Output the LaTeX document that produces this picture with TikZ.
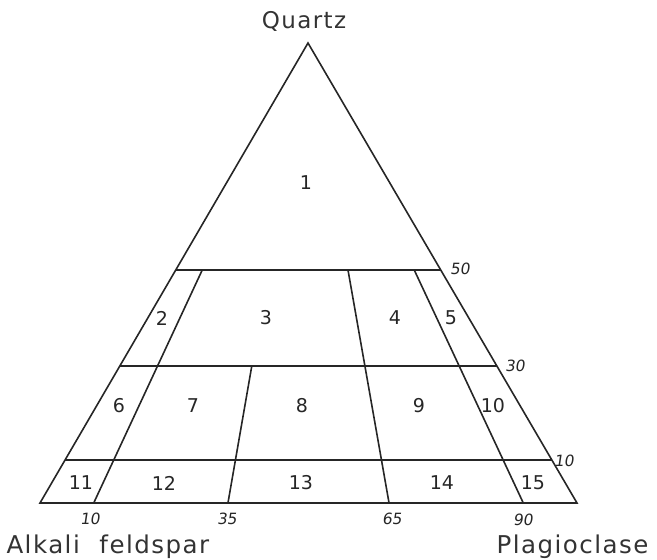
\documentclass[tikz,border=0pt]{standalone}
\usepackage{fontspec}
\setmainfont{DejaVu Sans}
\newfontfamily\widefont[LetterSpace=6]{DejaVu Sans}
\usetikzlibrary{calc}
\begin{document}
\begin{tikzpicture}[x=1pt,y=-1pt,
  edge/.style={line width=1.6pt,line join=miter,draw=black!85},
  field/.style={font=\fontsize{19}{19}\selectfont,text=black!85},
  tick/.style={font=\fontsize{15.5}{15.5}\selectfont\addfontfeature{FakeSlant=0.15},text=black!85},
  corner/.style={font=\widefont\fontsize{23}{23}\selectfont,text=black!80},
  cornerb/.style={font=\widefont\fontsize{24.5}{24.5}\selectfont,text=black!80}]
\useasboundingbox (0,0) rectangle (657,560);
\coordinate (Q) at (308,43);
\coordinate (A) at (40,503);
\coordinate (P) at (577,503);
% horizontal levels
\coordinate (L50) at ($(A)!0.506!(Q)$);
\coordinate (R50) at ($(P)!0.506!(Q)$);
\coordinate (L30) at ($(A)!0.298!(Q)$);
\coordinate (R30) at ($(P)!0.298!(Q)$);
\coordinate (L10) at ($(A)!0.093!(Q)$);
\coordinate (R10) at ($(P)!0.093!(Q)$);
% base points
\coordinate (B10) at ($(A)!0.10!(P)$);
\coordinate (B35) at ($(A)!0.35!(P)$);
\coordinate (B65) at ($(A)!0.65!(P)$);
\coordinate (B90) at ($(A)!0.90!(P)$);
\coordinate (T10) at ($(B10)!0.506!(Q)$);
\coordinate (T35) at ($(B35)!0.298!(Q)$);
\coordinate (T65) at ($(B65)!0.506!(Q)$);
\coordinate (T90) at ($(B90)!0.506!(Q)$);
\draw[edge] (A) -- (Q) -- (P) -- cycle;
\draw[edge] (L50) -- (R50);
\draw[edge] (L30) -- (R30);
\draw[edge] (L10) -- (R10);
\draw[edge] (B10) -- (T10);
\draw[edge] (B35) -- (T35);
\draw[edge] (B65) -- (T65);
\draw[edge] (B90) -- (T90);
% field numbers
\node[field] (f1) at (306,183) {1};
\node[field] (f2) at (162,318) {2};
\node[field] (f3) at (266,318) {3};
\node[field] (f4) at (395,318) {4};
\node[field] (f5) at (451,318) {5};
\node[field] (f6) at (119,406) {6};
\node[field] (f7) at (193,406) {7};
\node[field] (f8) at (302,406) {8};
\node[field] (f9) at (419,406) {9};
\node[field] (f10) at (493,406) {10};
\node[field] (f11) at (81,483) {11};
\node[field] (f12) at (164,483) {12};
\node[field] (f13) at (301,483) {13};
\node[field] (f14) at (442,483) {14};
\node[field] (f15) at (533,483) {15};
% tick labels
\node[tick] (t50) at (460,269) {50};
\node[tick] (t30) at (515,366) {30};
\node[tick] (t10r) at (564,461) {10};
\node[tick] (b10) at (90,519) {10};
\node[tick] (b35) at (227,519) {35};
\node[tick] (b65) at (392,519) {65};
\node[tick] (b90) at (523,520) {90};
% corner labels
\node[corner] (q) at (304,21) {Quartz};
\node[cornerb,anchor=west] (a) at (3,547) {Alkali\hspace{0.8em}feldspar};
\node[cornerb,anchor=east] (p) at (652,547) {Plagioclase};
\end{tikzpicture}
\end{document}
